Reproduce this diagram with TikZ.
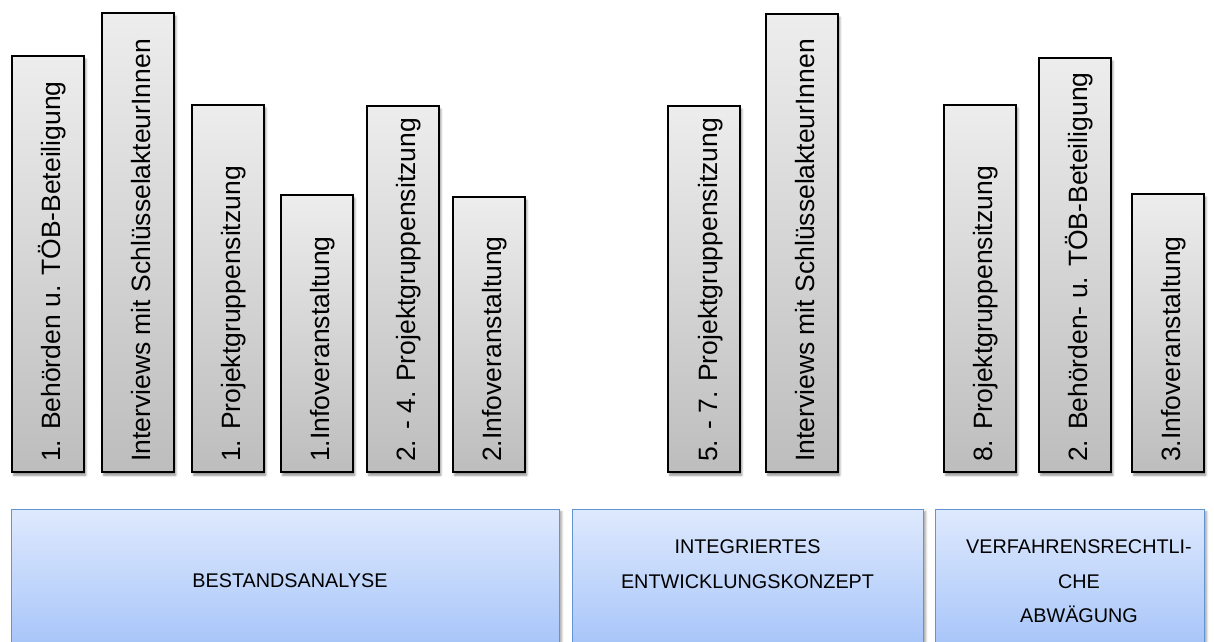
\documentclass[tikz,border=0pt]{standalone}
\usepackage{fontspec}
\setmainfont{Liberation Sans}
\usetikzlibrary{shadows.blur}
\definecolor{barTop}{HTML}{EDEDED}
\definecolor{barBot}{HTML}{BDBDBD}
\definecolor{boxTop}{HTML}{DEE9FD}
\definecolor{boxBot}{HTML}{A6C4F9}
\definecolor{boxLine}{HTML}{6293D3}
\begin{document}
\begin{tikzpicture}[x=1pt,y=-1pt,
  bar/.style={draw=black, line width=1.6pt, top color=barTop, bottom color=barBot,
    minimum width=72pt, inner sep=0pt, anchor=south west,
    blur shadow={shadow xshift=2pt, shadow yshift=-3pt, shadow blur steps=6, shadow opacity=45}},
  bartext/.style={rotate=90, anchor=base west, inner sep=0pt, font=\fontsize{26.5}{30}\selectfont},
  phase/.style={draw=boxLine, line width=1.4pt, top color=boxTop, bottom color=boxBot,
    inner sep=0pt, anchor=north west,
    blur shadow={shadow xshift=2pt, shadow yshift=-2pt, shadow blur steps=6, shadow opacity=35}},
  phasetext/.style={anchor=base, inner sep=0pt, font=\fontsize{19.8}{23}\selectfont}]
\useasboundingbox (0,0) rectangle (1214,641);
\clip (0,0) rectangle (1214,641);
% bars
\node[bar, minimum height=416pt] (b1) at (11,473) {};
\node[bar, minimum height=459pt] (b2) at (101,473) {};
\node[bar, minimum height=367pt] (b3) at (191,473) {};
\node[bar, minimum height=277pt] (b4) at (280,473) {};
\node[bar, minimum height=366pt] (b5) at (366,473) {};
\node[bar, minimum height=275pt] (b6) at (452,473) {};
\node[bar, minimum height=366pt] (b7) at (667,473) {};
\node[bar, minimum height=458pt] (b8) at (765,473) {};
\node[bar, minimum height=367pt] (b9) at (943,473) {};
\node[bar, minimum height=414pt] (b10) at (1038,473) {};
\node[bar, minimum height=278pt] (b11) at (1131,473) {};
% bar texts
\node[bartext] (t1) at (60,462) {1. Behörden u. TÖB-Beteiligung};
\node[bartext] (t2) at (150,462) {Interviews mit SchlüsselakteurInnen};
\node[bartext] (t3) at (240,462) {1. Projektgruppensitzung};
\node[bartext] (t4) at (329,462) {1.Infoveranstaltung};
\node[bartext] (t5) at (415,462) {2. - 4. Projektgruppensitzung};
\node[bartext] (t6) at (501,462) {2.Infoveranstaltung};
\node[bartext] (t7) at (717,462) {5. - 7. Projektgruppensitzung};
\node[bartext] (t8) at (814,462) {Interviews mit SchlüsselakteurInnen};
\node[bartext] (t9) at (992,462) {8. Projektgruppensitzung};
\node[bartext] (t10) at (1087,462) {2. Behörden- u. TÖB-Beteiligung};
\node[bartext] (t11) at (1180,462) {3.Infoveranstaltung};
% phase boxes
\node[phase, minimum width=548pt, minimum height=140pt] (p1) at (11,509) {};
\node[phase, minimum width=351pt, minimum height=140pt] (p2) at (572,509) {};
\node[phase, minimum width=269pt, minimum height=140pt] (p3) at (935,509) {};
% phase texts
\node[phasetext] (p1a) at (290,587) {BESTANDSANALYSE};
\node[phasetext] (p2a) at (747.5,553) {INTEGRIERTES};
\node[phasetext] (p2b) at (747.5,588) {ENTWICKLUNGSKONZEPT};
\node[phasetext] (p3a) at (1079,553) {VERFAHRENSRECHTLI-};
\node[phasetext] (p3b) at (1079,588) {CHE};
\node[phasetext] (p3c) at (1079,622) {ABWÄGUNG};
\end{tikzpicture}
\end{document}
